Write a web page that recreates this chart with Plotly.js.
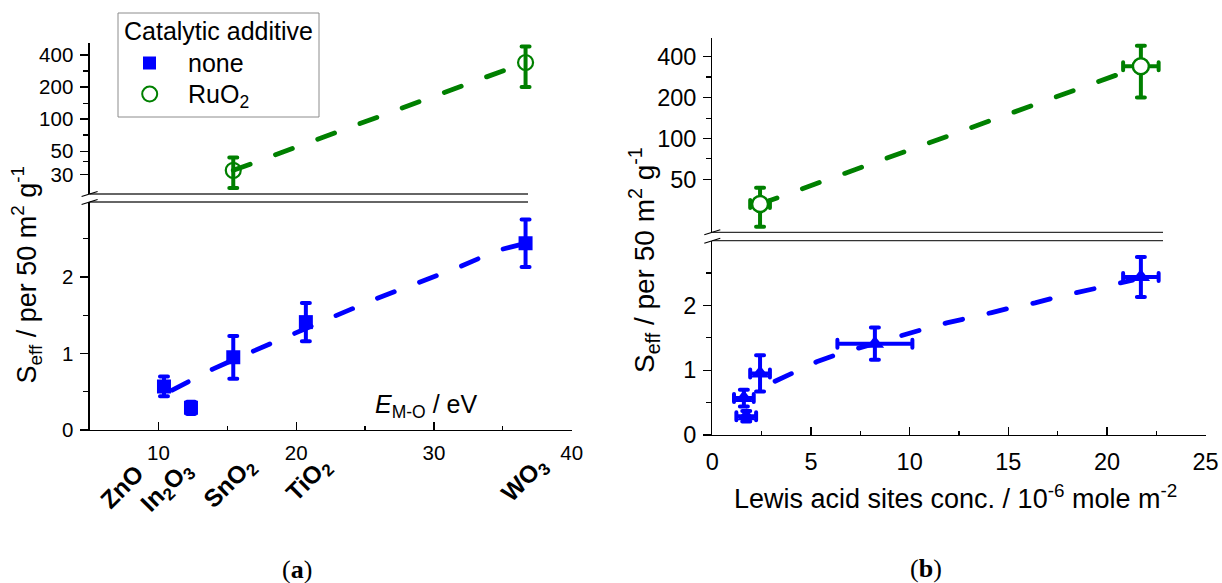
<!DOCTYPE html>
<html>
<head>
<meta charset="utf-8">
<script src="https://cdn.plot.ly/plotly-3.0.1.min.js"></script>
<style>
  html, body { margin: 0; padding: 0; background: #fff; }
  #chart { width: 1222px; height: 583px; }
  .errorbar path { stroke-linecap: round; }
  .js-line { stroke-linecap: round; }
</style>
</head>
<body>
<div id="chart"></div>
<script>
// ---- data ----------------------------------------------------------
const oxideNames  = ['ZnO', 'In2O3', 'SnO2', 'TiO2', 'WO3'];
const oxideLabels = ['ZnO', 'In<sub>2</sub>O<sub>3</sub>', 'SnO<sub>2</sub>', 'TiO<sub>2</sub>', 'WO<sub>3</sub>'];

// metal-oxygen bond energy E_M-O, eV
const bondEnergy   = [10.4, 12.36, 15.43, 20.7, 36.65];
// Lewis acid sites concentration, 10^-6 mole m^-2
const lewisConc    = [1.6, 1.72, 2.42, 8.24, 21.72];
const lewisConcErr = [0.5, 0.5, 0.5, 1.9, 0.9];

// effective sensitivity per 50 m2/g, no additive
const seffPlain    = [0.57, 0.29, 0.95, 1.41, 2.44];
const seffPlainErr = [0.13, 0.08, 0.28, 0.25, 0.31];

// effective sensitivity with RuO2 additive
const ruOxides = ['SnO2', 'WO3'];
const seffRu    = [33, 340];
const seffRuErr = [10.5, 140];

// dashed trend curves (no additive)
const trendEnergyX = [11.0, 13.98, 16.88, 19.78, 22.69, 25.71, 28.74, 31.69, 34.66, 36.65];
const trendEnergyY = [0.52, 0.80, 1.03, 1.26, 1.48, 1.71, 1.92, 2.12, 2.35, 2.44];
const trendLewisX  = [3.18, 4.19, 5.29, 6.39, 9.68, 10.78, 11.88, 12.98, 14.16, 15.2, 16.36, 17.46, 18.6, 19.65, 21.3];
const trendLewisY  = [0.83, 0.98, 1.13, 1.25, 1.55, 1.64, 1.73, 1.80, 1.89, 1.97, 2.04, 2.13, 2.21, 2.29, 2.39];

// tick labels
const energyTicks  = [10, 20, 30, 40];
const lewisTicks   = [0, 5, 10, 15, 20, 25];
const seffTicks    = [0, 1, 2];
const ruTicksLeft  = [30, 50, 100, 200, 400];
const ruTicksRight = [50, 100, 200, 400];

// ---- helpers -------------------------------------------------------
const W = 1222, H = 583;
const fx = p => p / W;          // pixel -> paper x
const fy = p => 1 - p / H;      // pixel -> paper y
const FONT = 'Liberation Sans, Arial, sans-serif';
const SERIF = 'Liberation Serif, serif';
const BLUE = '#0000ff', GREEN = '#008000', INK = '#000';

const ruIdx      = ruOxides.map(n => oxideNames.indexOf(n));
const ruEnergy   = ruIdx.map(i => bondEnergy[i]);
const ruLewis    = ruIdx.map(i => lewisConc[i]);
const ruLewisErr = ruIdx.map(i => lewisConcErr[i]);

const dashLine = color => ({ color, width: 4.8, dash: '18px,27px' });
const errBar = (arr, color) => ({ type: 'data', array: arr, visible: true, color, thickness: 4, width: 4 });

// ---- traces --------------------------------------------------------
const traces = [
  // (a) energy panel
  { x: trendEnergyX, y: trendEnergyY, xaxis: 'x', yaxis: 'y', mode: 'lines', line: dashLine(BLUE), hoverinfo: 'skip' },
  { x: ruEnergy, y: seffRu, xaxis: 'x', yaxis: 'y2', mode: 'lines', line: dashLine(GREEN), hoverinfo: 'skip' },
  { x: bondEnergy, y: seffPlain, xaxis: 'x', yaxis: 'y', mode: 'markers', name: 'none',
    error_y: errBar(seffPlainErr, BLUE),
    marker: { symbol: 'square', size: 14, color: BLUE } },
  { x: ruEnergy, y: seffRu, xaxis: 'x', yaxis: 'y2', mode: 'markers', name: 'RuO2',
    error_y: errBar(seffRuErr, GREEN),
    marker: { symbol: 'circle-open', size: 15, color: GREEN, line: { width: 2.2 } } },

  // (b) Lewis acidity panel
  { x: trendLewisX, y: trendLewisY, xaxis: 'x2', yaxis: 'y3', mode: 'lines', line: dashLine(BLUE), hoverinfo: 'skip' },
  { x: ruLewis, y: seffRu, xaxis: 'x2', yaxis: 'y4', mode: 'lines', line: dashLine(GREEN), hoverinfo: 'skip' },
  { x: lewisConc, y: seffPlain, xaxis: 'x2', yaxis: 'y3', mode: 'markers', name: 'none',
    error_x: errBar(lewisConcErr, BLUE), error_y: errBar(seffPlainErr, BLUE),
    marker: { symbol: 'triangle-up', size: 16, color: BLUE } },
  { x: ruLewis, y: seffRu, xaxis: 'x2', yaxis: 'y4', mode: 'markers', name: 'RuO2',
    error_x: errBar(ruLewisErr, GREEN), error_y: errBar(seffRuErr, GREEN),
    marker: { symbol: 'circle', size: 16, color: '#fff', line: { color: GREEN, width: 2.5 } } }
];

// ---- axes ----------------------------------------------------------
const base = { showline: true, linecolor: INK, linewidth: 1.2, showgrid: false, zeroline: false,
               tickcolor: INK, tickwidth: 1.2, fixedrange: true, tickmode: 'array' };
const minorTicks = (vals, dir, len) => ({ tickmode: 'array', tickvals: vals, ticks: dir, ticklen: len, tickcolor: INK, tickwidth: 1.2 });
const tf = size => ({ family: FONT, size, color: INK });

const layout = {
  width: W, height: H,
  margin: { l: 0, r: 0, t: 0, b: 0 },
  paper_bgcolor: '#fff', plot_bgcolor: 'rgba(0,0,0,0)',
  showlegend: false,
  xaxis: { ...base, anchor: 'y', domain: [fx(89.6), fx(571.7)], range: [5, 40],
           tickvals: energyTicks, ticks: 'inside', ticklen: 8, ticklabelstandoff: 4,
           minor: minorTicks([15, 25, 35], 'inside', 4), tickfont: tf(20.5) },
  yaxis: { ...base, anchor: 'x', domain: [fy(430), fy(202)], range: [0, 2.98],
           tickvals: seffTicks, ticks: 'outside', ticklen: 8, ticklabelstandoff: 3,
           minor: minorTicks([0.5, 1.5, 2.5], 'outside', 5), tickfont: tf(20.5) },
  yaxis2: { ...base, anchor: 'x', type: 'log', domain: [fy(194), fy(43)],
            range: [Math.log10(19.8), Math.log10(518)],
            tickvals: ruTicksLeft, ticktext: ruTicksLeft.map(String), ticks: 'outside', ticklen: 8, ticklabelstandoff: 3,
            minor: minorTicks([40, 71, 141, 283], 'outside', 5), tickfont: tf(20.5) },
  xaxis2: { ...base, anchor: 'y3', domain: [fx(712.3), fx(1205.6)], range: [0, 25],
            tickvals: lewisTicks, ticks: 'inside', ticklen: 8, ticklabelstandoff: 6,
            minor: minorTicks([2.5, 7.5, 12.5, 17.5, 22.5], 'inside', 4), tickfont: tf(23.5) },
  yaxis3: { ...base, anchor: 'x2', domain: [fy(435), fy(240.7)], range: [0, 3.0],
            tickvals: seffTicks, ticks: 'outside', ticklen: 8, ticklabelstandoff: 2,
            minor: minorTicks([0.5, 1.5, 2.5], 'outside', 5), tickfont: tf(23.5) },
  yaxis4: { ...base, anchor: 'x2', type: 'log', domain: [fy(232.3), fy(38.3)],
            range: [Math.log10(20.45), Math.log10(545)],
            tickvals: ruTicksRight, ticktext: ruTicksRight.map(String), ticks: 'outside', ticklen: 8, ticklabelstandoff: 2,
            minor: minorTicks([71, 141, 283], 'outside', 5), tickfont: tf(23.5) },
  shapes: [],
  annotations: []
};

// ---- axis breaks ---------------------------------------------------
function axisBreak(xLeft, xRight, yUpper, yLower) {
  const ln = { color: '#333', width: 1.3 };
  layout.shapes.push(
    { type: 'line', xref: 'paper', yref: 'paper', x0: fx(xLeft), x1: fx(xRight), y0: fy(yUpper), y1: fy(yUpper), line: ln },
    { type: 'line', xref: 'paper', yref: 'paper', x0: fx(xLeft), x1: fx(xRight), y0: fy(yLower), y1: fy(yLower), line: ln },
    { type: 'line', xref: 'paper', yref: 'paper', x0: fx(xLeft - 8), x1: fx(xLeft + 8), y0: fy(yUpper + 2.5), y1: fy(yUpper - 2.5), line: { color: INK, width: 1.2 } },
    { type: 'line', xref: 'paper', yref: 'paper', x0: fx(xLeft - 8), x1: fx(xLeft + 8), y0: fy(yLower + 2.5), y1: fy(yLower - 2.5), line: { color: INK, width: 1.2 } }
  );
}
axisBreak(89.6, 528, 194, 202);
axisBreak(712.3, 1163, 232.3, 240.7);

// ---- text ----------------------------------------------------------
const note = (text, x, y, size, extra) => layout.annotations.push(Object.assign({
  text, x: fx(x), y: fy(y), xref: 'paper', yref: 'paper', showarrow: false,
  xanchor: 'center', yanchor: 'middle', font: { family: FONT, size, color: INK }
}, extra || {}));

const seffTitle = 'S<sub>eff</sub> / per 50 m<sup>2</sup> g<sup>-1</sup>';
note(seffTitle, 26, 274.5, 27, { textangle: -90 });
note(seffTitle, 644, 260, 28, { textangle: -90 });
note('<i>E</i><sub>M-O</sub> / eV', 373, 406, 25, { xanchor: 'left' });
note('Lewis acid sites conc. / 10<sup>-6</sup> mole m<sup>-2</sup>', 955.5, 497, 27);
note('(<b>a</b>)', 297, 569, 26, { font: { family: SERIF, size: 26, color: INK } });
note('(<b>b</b>)', 926, 568, 26, { font: { family: SERIF, size: 26, color: INK } });

// oxide names under the energy axis, rotated
const labelShift = [-42, -24, -3, 3, -1];
const labelY     = [486, 487, 483, 480, 480];
oxideLabels.forEach((lab, i) => layout.annotations.push({
  text: '<b>' + lab + '</b>', xref: 'x', x: bondEnergy[i], xshift: labelShift[i],
  yref: 'paper', y: fy(labelY[i]), textangle: -45, showarrow: false,
  xanchor: 'center', yanchor: 'middle', font: { family: FONT, size: 24.5, color: INK }
}));

// ---- legend box ----------------------------------------------------
layout.shapes.push(
  { type: 'rect', xref: 'paper', yref: 'paper', x0: fx(118), x1: fx(319), y0: fy(13), y1: fy(117),
    line: { color: '#8c8c8c', width: 1 }, fillcolor: 'rgba(0,0,0,0)' },
  { type: 'rect', xref: 'paper', yref: 'paper', x0: fx(143), x1: fx(156), y0: fy(56.5), y1: fy(69.5),
    line: { width: 0 }, fillcolor: BLUE },
  { type: 'circle', xref: 'paper', yref: 'paper', x0: fx(142.2), x1: fx(157.2), y0: fy(86.5), y1: fy(101.5),
    line: { color: GREEN, width: 2 }, fillcolor: 'rgba(0,0,0,0)' }
);
note('Catalytic additive', 121.7, 31, 25, { xanchor: 'left' });
note('none', 185.6, 63, 25, { xanchor: 'left' });
note('RuO<sub>2</sub>', 185.6, 96, 25, { xanchor: 'left' });

Plotly.newPlot('chart', traces, layout, { staticPlot: true, displayModeBar: false });
</script>
</body>
</html>
